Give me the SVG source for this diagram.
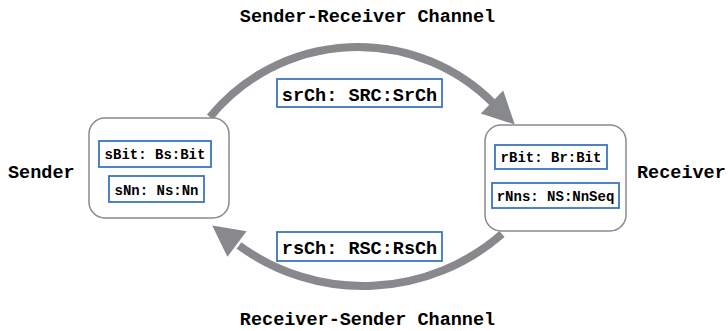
<svg xmlns="http://www.w3.org/2000/svg" width="728" height="331" viewBox="0 0 728 331">
<style>
text{font-family:"Liberation Mono","DejaVu Sans Mono",monospace;font-weight:bold;fill:#000}
.big{font-size:18.5px}
.small{font-size:14px}
.node{fill:#fff;stroke:#8a8a8e;stroke-width:1.5}
.field{fill:#fff;stroke:#3b76bf;stroke-width:1.8}
.arc{fill:none;stroke:#88898d;stroke-width:8}
.head{fill:#88898d}
</style>
<rect width="728" height="331" fill="#fff"/>
<g id="connectors">
<path class="arc" d="M210,117 A191,191 0 0,1 494,104"/>
<polygon class="head" points="514.8,124.5 480.8,113.4 503.2,90.6"/>
<path class="arc" d="M502,234 A210.8,210.8 0 0,1 239,245.5"/>
<polygon class="head" points="212.2,225.4 246.6,231.2 227.4,256.8"/>
<g id="srCh">
<rect class="field" x="277" y="79" width="165" height="28"/>
<text class="big" x="359.5" y="100.5" text-anchor="middle">srCh: SRC:SrCh</text>
</g>
<g id="rsCh">
<rect class="field" x="277" y="232" width="165" height="29"/>
<text class="big" x="359.5" y="253.5" text-anchor="middle">rsCh: RSC:RsCh</text>
</g>
<text class="big" x="367.5" y="22" text-anchor="middle">Sender-Receiver Channel</text>
<text class="big" x="367.5" y="325" text-anchor="middle">Receiver-Sender Channel</text>
</g>
<g id="sender">
<rect class="node" x="89" y="118" width="140" height="100" rx="16"/>
<rect class="field" x="99" y="141" width="112" height="26"/>
<text class="small" x="155" y="158.5" text-anchor="middle">sBit: Bs:Bit</text>
<rect class="field" x="109" y="176" width="95" height="26"/>
<text class="small" x="156.5" y="194.5" text-anchor="middle">sNn: Ns:Nn</text>
<text class="big" x="8" y="178">Sender</text>
</g>
<g id="receiver">
<rect class="node" x="485" y="125" width="141" height="106" rx="16"/>
<rect class="field" x="495" y="145" width="112" height="24"/>
<text class="small" x="551" y="161.5" text-anchor="middle">rBit: Br:Bit</text>
<rect class="field" x="492" y="183" width="127" height="25"/>
<text class="small" x="555.5" y="201" text-anchor="middle">rNns: NS:NnSeq</text>
<text class="big" x="637" y="178">Receiver</text>
</g>
</svg>
